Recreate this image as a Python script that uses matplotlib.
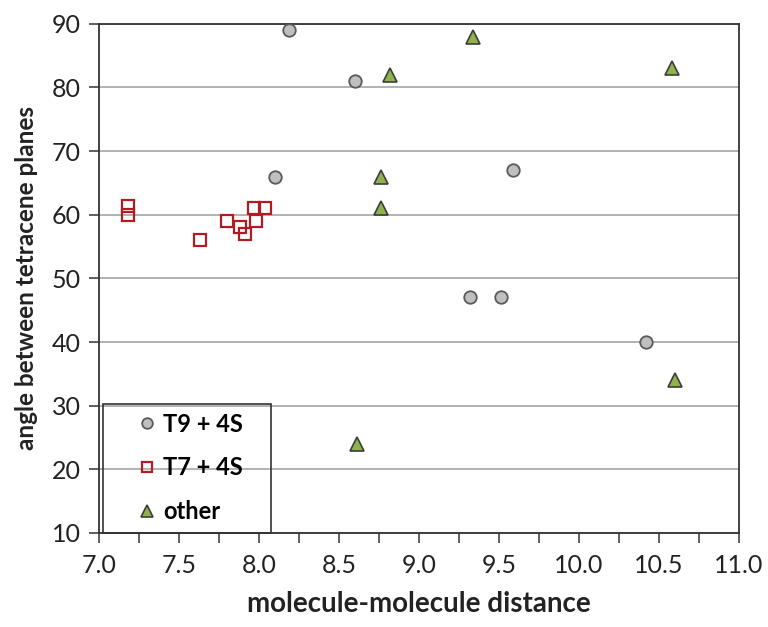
import matplotlib
matplotlib.use("Agg")
import matplotlib.pyplot as plt
from matplotlib.patches import Rectangle
from matplotlib.ticker import MultipleLocator

plt.rcParams['font.family'] = ['Lato', 'DejaVu Sans']

# T9 + 4S
t9_x = [8.19, 8.60, 8.10, 9.59, 9.32, 9.51, 10.42]
t9_y = [89, 81, 66, 67, 47, 47, 40]

# T7 + 4S
t7_x = [7.18, 7.18, 7.63, 7.80, 7.88, 7.91, 7.98, 7.97, 8.04]
t7_y = [61.3, 60.0, 56, 59, 58, 57, 59, 61, 61]

# other
oth_x = [8.82, 9.34, 10.58, 8.76, 8.76, 10.60, 8.61]
oth_y = [82, 88, 83, 66, 61, 34, 24]

fig = plt.figure(figsize=(7.68, 6.27), dpi=100)
ax = fig.add_axes([0.129, 0.150, 0.833, 0.812])

ax.set_xlim(7.0, 11.0)
ax.set_ylim(10, 90)
ax.xaxis.set_major_locator(MultipleLocator(0.5))
ax.xaxis.set_minor_locator(MultipleLocator(0.25))
ax.yaxis.set_major_locator(MultipleLocator(10))
ax.xaxis.set_major_formatter(lambda v, p: f"{v:.1f}")

ax.grid(axis='y', color='#a6a6a6', linewidth=1.2, zorder=0)
for s in ax.spines.values():
    s.set_color('#333333')
    s.set_linewidth(1.3)

ax.tick_params(axis='x', which='both', direction='out', length=7, width=1.1,
               color='#333333', labelsize=18, pad=8, labelcolor='#222222')
ax.tick_params(axis='y', direction='out', length=7, width=1.1,
               color='#333333', labelsize=18, pad=6, labelcolor='#222222')

ax.plot(t9_x, t9_y, 'o', ms=9, mfc='#bfbfbf', mec='#5a5a5a', mew=1.3,
        label='T9 + 4S', zorder=3)
ax.plot(t7_x, t7_y, 's', ms=8.5, mfc='none', mec='#b01c24', mew=1.6,
        label='T7 + 4S', zorder=3)
ax.plot(oth_x, oth_y, '^', ms=10, mfc='#8fb24c', mec='#3d3d3d', mew=1.2,
        label='other', zorder=3)

# legend box is see-through: gridlines run across it
ax.add_patch(Rectangle((0.00625, 0), 0.2625, 0.2534, transform=ax.transAxes,
                       fill=False, ec='#333333', lw=1.2, zorder=4,
                       clip_on=False))
ax.legend(loc='center left', bbox_to_anchor=(0.054, 0.128),
          borderaxespad=0, borderpad=0, frameon=False,
          prop={'weight': 'bold', 'size': 17}, labelspacing=0.88,
          handlelength=1.1, handletextpad=0.15, markerscale=0.85)

ax.set_xlabel('molecule-molecule distance', fontsize=20, fontweight='bold',
              labelpad=10, color='#222222')
ax.set_ylabel('angle between tetracene planes', fontsize=17.5,
              fontweight='bold', labelpad=10, color='#222222')

fig.savefig('out.png', dpi=100)
